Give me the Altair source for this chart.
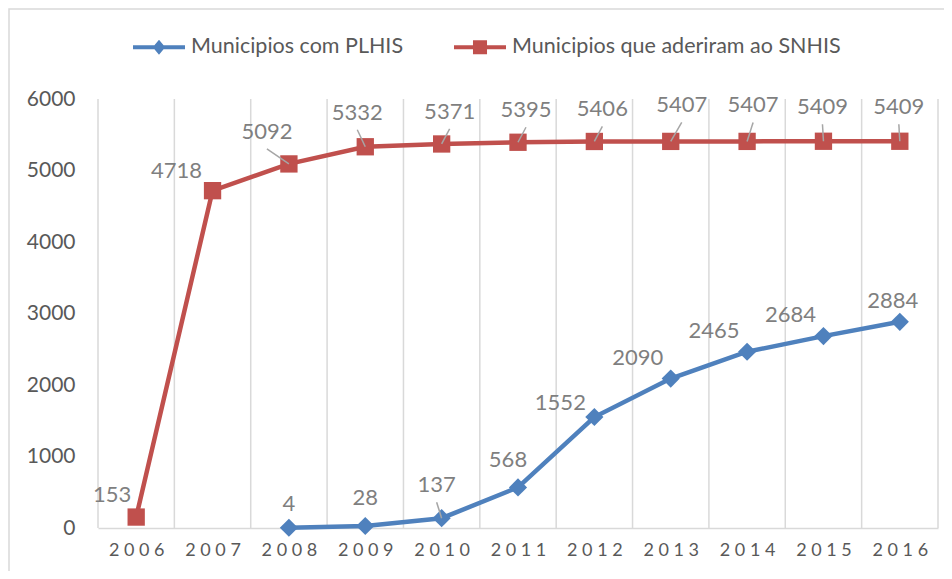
import altair as alt
import pandas as pd
import json

years = [2006, 2007, 2008, 2009, 2010, 2011, 2012, 2013, 2014, 2015, 2016]
snhis = [153, 4718, 5092, 5332, 5371, 5395, 5406, 5407, 5407, 5409, 5409]
plhis = [None, None, 4, 28, 137, 568, 1552, 2090, 2465, 2684, 2884]
series_names = ["Municipios com PLHIS", "Municipios que aderiram ao SNHIS"]
y_ticks = [0, 1000, 2000, 3000, 4000, 5000, 6000]

BLUE = "#4F81BD"
RED = "#C0504D"
GRID = "#D9D9D9"
AXIS_TXT = "#595959"
LABEL_TXT = "#7F7F7F"
LEADER = "#A6A6A6"
FONT = "Lato"

rows = []
for yr, v in zip(years, plhis):
    if v is not None:
        rows.append({"year": yr, "value": v, "series": series_names[0]})
for yr, v in zip(years, snhis):
    rows.append({"year": yr, "value": v, "series": series_names[1]})
df = pd.DataFrame(rows)

bounds = pd.DataFrame({"b": [y - 0.5 for y in years] + [years[-1] + 0.5]})

W, H = 840, 429
xscale = alt.Scale(domain=[years[0] - 0.5, years[-1] + 0.5], nice=False, zero=False)
yscale = alt.Scale(domain=[0, 6000], nice=False)

_v = "format(datum.value,'d')"
label_expr = "+' '+".join(f"substring({_v},{i},{i+1})" for i in range(4))

x_axis = alt.Axis(values=years, labelExpr=label_expr, title=None, grid=False,
                  ticks=False, domain=True, domainColor=GRID, domainWidth=1.5,
                  labelPadding=13, labelFontSize=18, labelColor=AXIS_TXT,
                  labelFont=FONT, labelFlush=False)
x_enc = alt.X("year:Q", scale=xscale, axis=x_axis)
y_enc = alt.Y("value:Q", scale=yscale,
              axis=alt.Axis(values=y_ticks, format="d", title=None, grid=False, ticks=False,
                            domain=False, labelPadding=23, labelFontSize=21,
                            labelColor=AXIS_TXT, labelFont=FONT))

base = alt.Chart(df)

border = alt.Chart(pd.DataFrame({"a": [0]})).mark_rect(
    fill=None, stroke=GRID, strokeWidth=1.5
).encode(x=alt.value(-89), y=alt.value(-90), x2=alt.value(960), y2=alt.value(600))

grid = alt.Chart(bounds).mark_rule(color=GRID, strokeWidth=1.5).encode(
    x=alt.X("b:Q", scale=xscale, axis=x_axis)
)

layers = [border, grid]

colors = {series_names[0]: BLUE, series_names[1]: RED}
shapes = {series_names[0]: "diamond", series_names[1]: "square"}
for s in series_names:
    sub = base.transform_filter(f"datum.series == '{s}'")
    layers.append(sub.mark_line(color=colors[s], strokeWidth=4.5).encode(x=x_enc, y=y_enc))
    layers.append(sub.mark_point(shape=shapes[s], filled=True, opacity=1, color=colors[s],
                                 size=300 if s == series_names[1] else 330).encode(x=x_enc, y=y_enc))

# data labels: (series, years, dx, dy, leader line)
label_groups = [
    (series_names[1], [2006], -24, -22, False),
    (series_names[1], [2007], -36, -20, False),
    (series_names[1], [2008], -22, -32, True),
    (series_names[1], [2009], -8, -34, True),
    (series_names[1], [2010, 2011, 2012], 8, -32, True),
    (series_names[1], [2013], 11, -36, True),
    (series_names[1], [2014], 6, -36, True),
    (series_names[1], [2015, 2016], -1, -34, True),
    (series_names[0], [2008], 0, -24, False),
    (series_names[0], [2009], 0, -28, False),
    (series_names[0], [2010], -5, -33, True),
    (series_names[0], [2011], -10, -27, False),
    (series_names[0], [2012], -34, -14, False),
    (series_names[0], [2013, 2014, 2015], -33, -21, False),
    (series_names[0], [2016], -7, -21, False),
]
leader_layers = []
for s, yrs, dx, dy, leader in label_groups:
    sub = base.transform_filter(f"datum.series == '{s}' && indexof({json.dumps(yrs)}, datum.year) >= 0")
    layers.append(
        sub.mark_text(dx=dx, dy=dy, fontSize=22, font=FONT, color=LABEL_TXT,
                      align="center", baseline="middle")
        .encode(x=x_enc, y=y_enc, text=alt.Text("value:Q", format="d"))
    )
    if leader:
        leader_layers.append(
            sub.mark_rule(color=LEADER, strokeWidth=1.5, xOffset=dx, yOffset=dy + 17,
                          x2Offset=0, y2Offset=0)
            .encode(x=x_enc, y=y_enc, x2="year:Q", y2="value:Q")
        )
layers += leader_layers

# legend layer (invisible marks, visible legend symbols: line + marker)
diamond_path = "M-1,-0.075 L1,-0.075 L1,0.075 L-1,0.075 Z M0,-0.29 L0.24,0 L0,0.29 L-0.24,0 Z"
square_path = "M-1,-0.075 L1,-0.075 L1,0.075 L-1,0.075 Z M-0.27,-0.27 L0.27,-0.27 L0.27,0.27 L-0.27,0.27 Z"
legend_def = alt.Legend(title=None, orient="none", legendX=35, legendY=-78, direction="horizontal",
                        symbolSize=2704, symbolOpacity=1, symbolStrokeWidth=0, labelFontSize=21.5,
                        labelFont=FONT, labelColor=AXIS_TXT, labelOffset=6, columnPadding=50,
                        labelLimit=500)
layers.append(
    base.mark_point(filled=True, opacity=0).encode(
        x=x_enc, y=y_enc,
        color=alt.Color("series:N", scale=alt.Scale(domain=series_names, range=[BLUE, RED]), legend=legend_def),
        shape=alt.Shape("series:N", scale=alt.Scale(domain=series_names, range=[diamond_path, square_path]),
                        legend=legend_def),
    )
)

chart = alt.layer(*layers).properties(
    width=W, height=H,
    autosize=alt.AutoSizeParams(type="none"),
    padding={"left": 90, "top": 91, "right": 6, "bottom": 43},
    background="white",
).configure_view(stroke=None)

chart.save("out.html", embed_options={"renderer": "svg", "actions": False})
